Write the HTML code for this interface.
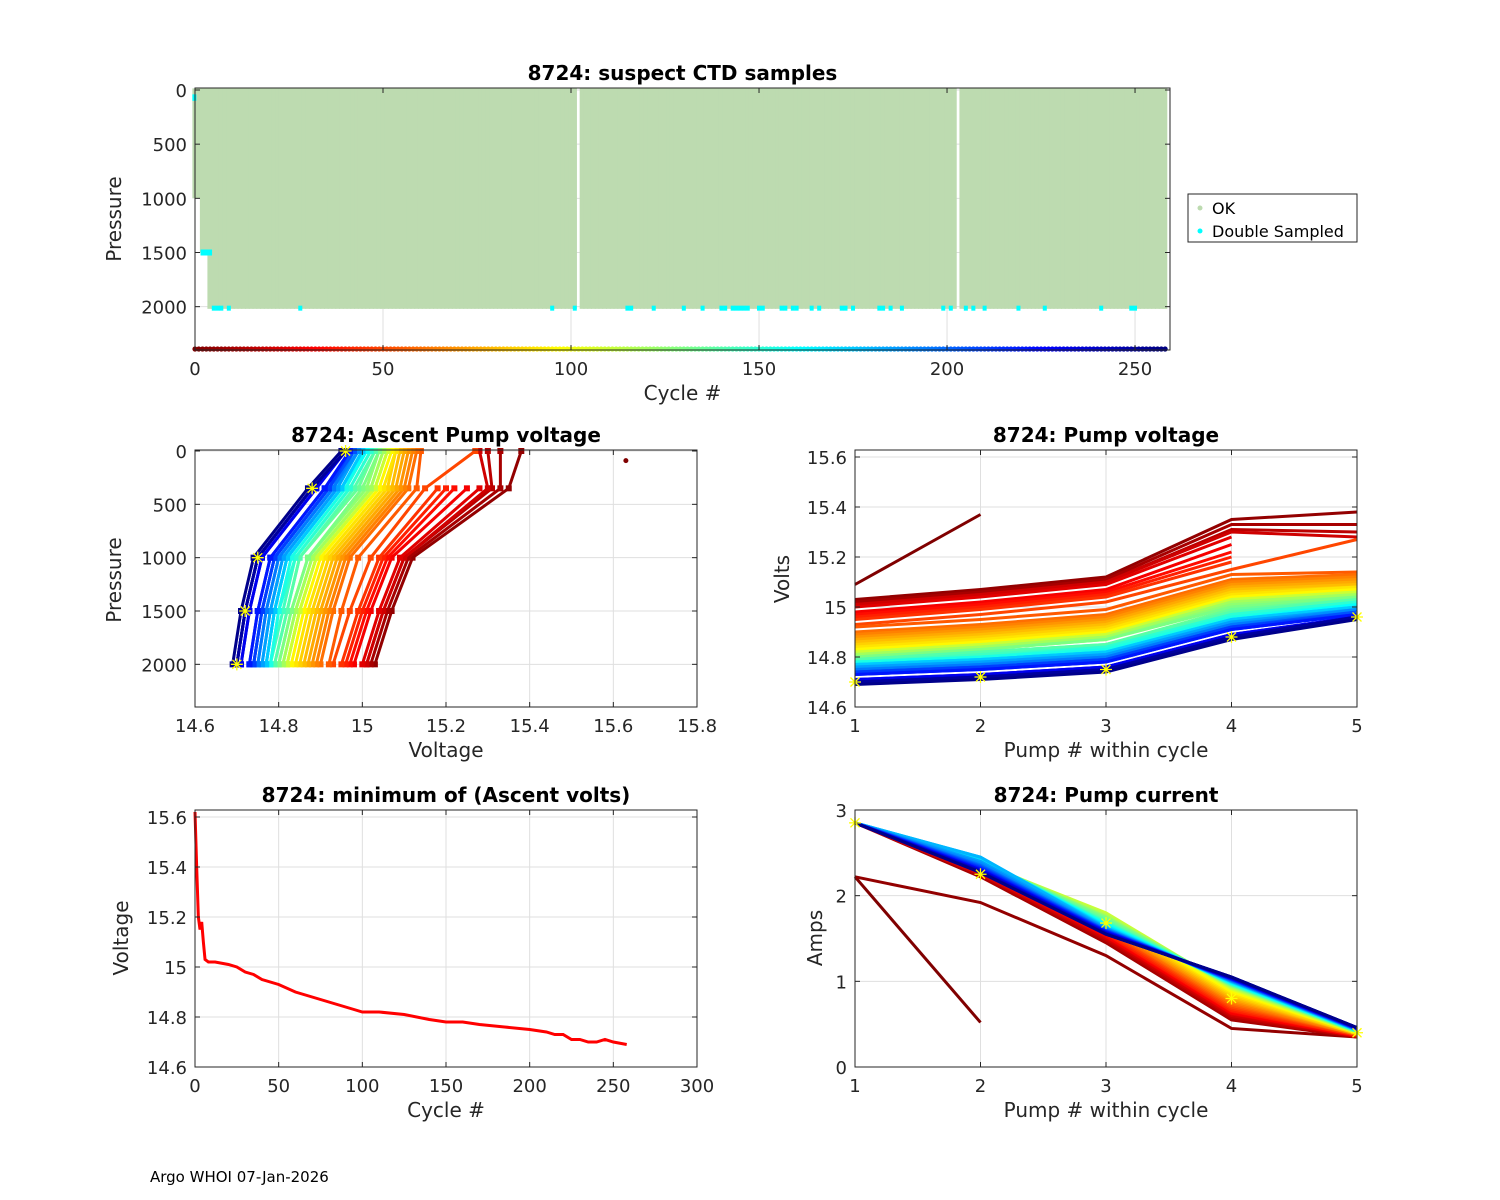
<!DOCTYPE html>
<html><head><meta charset="utf-8">
<style>
html,body{margin:0;padding:0;background:#fff;}
svg{display:block;font-family:"DejaVu Sans","Liberation Sans",sans-serif;}
</style></head>
<body>
<svg id="fig" width="1500" height="1200" viewBox="0 0 1500 1200" xmlns="http://www.w3.org/2000/svg">
<rect x="0" y="0" width="1500" height="1200" fill="#fff"/>
<text x="150" y="1182" font-size="15" fill="#000">Argo WHOI 07-Jan-2026</text>
</svg>
<script>
// ---------- data ----------
const cycles = [0,5,10,15,20,25,30,35,40,45,50,55,60,65,70,75,80,85,90,95,100,105,110,115,120,125,130,135,140,145,150,155,160,165,170,175,180,185,190,195,200,205,210,215,220,225,230,235,240,245,250,255];
const pumpPressures = [2000,1500,1000,350,0];
const volt1 = [15.09,15.03,15.02,15.01,15.01,15.00,14.98,14.97,14.96,14.95,14.93,14.92,14.90,14.89,14.88,14.87,14.86,14.85,14.84,14.83,14.82,14.82,14.82,14.81,14.81,14.80,14.80,14.79,14.79,14.78,14.78,14.78,14.77,14.77,14.77,14.77,14.76,14.76,14.75,14.75,14.74,14.74,14.74,14.73,14.73,14.71,14.71,14.70,14.70,14.70,14.70,14.69];
const volt2 = [15.37,15.07,15.06,15.05,15.05,15.04,15.02,15.01,15.00,14.99,14.97,14.95,14.93,14.92,14.91,14.90,14.89,14.88,14.87,14.86,14.85,14.85,14.85,14.84,14.84,14.83,14.83,14.82,14.82,14.81,14.80,14.80,14.79,14.79,14.79,14.79,14.78,14.78,14.77,14.77,14.76,14.76,14.76,14.75,14.75,14.73,14.73,14.72,14.72,14.72,14.72,14.71];
const volt3 = [null,15.12,15.11,15.10,15.10,15.09,15.07,15.06,15.05,15.04,15.02,14.99,14.97,14.96,14.95,14.94,14.93,14.92,14.91,14.90,14.89,14.89,14.89,14.88,14.88,14.87,14.87,14.85,14.85,14.84,14.84,14.83,14.82,14.82,14.82,14.82,14.81,14.81,14.80,14.80,14.79,14.79,14.79,14.78,14.78,14.76,14.76,14.75,14.75,14.75,14.75,14.74];
const volt4 = [null,15.35,15.33,15.31,15.30,15.28,15.25,15.22,15.20,15.18,15.15,15.13,15.11,15.10,15.09,15.08,15.07,15.06,15.05,15.04,15.03,15.03,15.03,15.02,15.02,15.01,15.00,14.99,14.98,14.97,14.97,14.96,14.95,14.95,14.95,14.95,14.94,14.94,14.93,14.93,14.92,14.92,14.92,14.91,14.91,14.89,14.89,14.88,14.88,14.88,14.88,14.87];
const volt5 = [null,15.38,15.33,15.30,15.28,null,null,null,null,null,15.27,15.14,15.13,15.12,15.11,15.10,15.09,15.08,15.08,15.07,15.06,15.06,15.06,15.05,15.05,15.04,15.04,15.03,15.03,15.02,15.02,15.01,15.01,15.00,15.00,15.00,14.99,14.99,14.99,14.98,14.98,14.98,14.97,14.97,14.97,14.96,14.96,14.96,14.96,14.96,14.96,14.95];
const amp1 = [2.22,2.22,2.85,2.85,2.85,2.85,2.85,2.85,2.85,2.85,2.85,2.85,2.85,2.85,2.85,2.85,2.85,2.85,2.85,2.85,2.85,2.85,2.85,2.85,2.85,2.85,2.85,2.85,2.85,2.85,2.85,2.85,2.85,2.85,2.85,2.85,2.85,2.85,2.85,2.85,2.85,2.85,2.85,2.85,2.85,2.85,2.85,2.85,2.85,2.85,2.85,2.85];
const amp2 = [0.52,1.92,2.22,2.24,2.25,2.26,2.27,2.28,2.29,2.30,2.30,2.31,2.32,2.33,2.33,2.34,2.35,2.35,2.36,2.37,2.37,2.38,2.38,2.39,2.39,2.40,2.40,2.41,2.41,2.42,2.42,2.43,2.43,2.44,2.44,2.45,2.45,2.40,2.38,2.36,2.35,2.34,2.33,2.32,2.31,2.30,2.30,2.29,2.28,2.28,2.27,2.27];
const amp3 = [null,1.30,1.45,1.48,1.50,1.52,1.53,1.55,1.56,1.58,1.60,1.62,1.63,1.65,1.66,1.68,1.70,1.72,1.74,1.75,1.76,1.78,1.80,1.78,1.76,1.75,1.74,1.72,1.70,1.69,1.68,1.67,1.66,1.65,1.64,1.63,1.62,1.62,1.61,1.60,1.60,1.59,1.59,1.58,1.58,1.57,1.57,1.56,1.56,1.55,1.55,1.55];
const amp4 = [null,0.45,0.55,0.58,0.60,0.62,0.63,0.65,0.66,0.68,0.70,0.72,0.74,0.76,0.78,0.80,0.82,0.84,0.86,0.88,0.90,0.91,0.92,0.93,0.94,0.95,0.95,0.96,0.96,0.97,0.97,0.98,0.98,0.99,0.99,1.00,1.00,1.00,1.01,1.01,1.02,1.02,1.02,1.03,1.03,1.03,1.04,1.04,1.04,1.05,1.05,1.05];
const amp5 = [null,0.35,0.35,0.35,0.36,0.36,0.36,0.37,0.37,0.37,0.38,0.38,0.38,0.38,0.39,0.39,0.39,0.39,0.40,0.40,0.40,0.40,0.40,0.41,0.41,0.41,0.41,0.42,0.42,0.42,0.42,0.42,0.43,0.43,0.43,0.43,0.43,0.44,0.44,0.44,0.44,0.44,0.45,0.45,0.45,0.45,0.45,0.46,0.46,0.46,0.46,0.46];
const medianVolts = [14.70,14.72,14.75,14.88,14.96];
const medianAmps = [2.85,2.25,1.68,0.80,0.40];
const minCycles = [0,1,2,3,4,5,6,8,12,20,25,30,35,40,50,60,70,75,85,95,100,105,110,125,140,150,160,170,185,200,210,215,220,225,230,235,240,245,250,258];
const minVolts = [15.62,15.40,15.20,15.15,15.18,15.10,15.03,15.02,15.02,15.01,15.00,14.98,14.97,14.95,14.93,14.90,14.88,14.87,14.85,14.83,14.82,14.82,14.82,14.81,14.79,14.78,14.78,14.77,14.76,14.75,14.74,14.73,14.73,14.71,14.71,14.70,14.70,14.71,14.70,14.69];
const lastCycle = 258;
const fullDepth = 2020;
const earlyCycles = [0,1,2,3];
const earlyDepth = [1000,1000,1500,1500];
const gapCycles = [102,203];
const doubleCycles = [5,6,7,9,28,95,101,115,116,122,130,135,140,141,143,144,145,146,147,150,151,156,157,159,160,164,166,172,173,175,182,183,185,188,199,201,205,207,210,219,226,241,249,250];
const doubleAt1500 = [2,3,4];
const topXTicks = [0,50,100,150,200,250];
const topYTicks = [0,500,1000,1500,2000];
const mlXTicks = [14.6,14.8,15,15.2,15.4,15.6,15.8];
const mlYTicks = [0,500,1000,1500,2000];
const pumpTicks = [1,2,3,4,5];
const voltTicks = [14.6,14.8,15,15.2,15.4,15.6];
const ampTicks = [0,1,2,3];
const cycTicks = [0,50,100,150,200,250,300];

// ---------- helpers ----------
const NS = "http://www.w3.org/2000/svg";
const svg = document.getElementById('fig');
function mk(tag, attrs, parent){
  const e = document.createElementNS(NS, tag);
  for (const k in attrs) e.setAttribute(k, attrs[k]);
  (parent||svg).appendChild(e);
  return e;
}
function jet(t){
  t = Math.max(0, Math.min(1, t));
  function f(x){ return Math.max(0, Math.min(1, x)); }
  const r = f(1.5 - Math.abs(4*t - 3));
  const g = f(1.5 - Math.abs(4*t - 2));
  const b = f(1.5 - Math.abs(4*t - 1));
  return `rgb(${Math.round(r*255)},${Math.round(g*255)},${Math.round(b*255)})`;
}
function cycColor(c){ return jet(1 - c/lastCycle); }
function lin(d0,d1,p0,p1){ return v => p0 + (v-d0)/(d1-d0)*(p1-p0); }
function fmt(v){ return String(Math.round(v*100)/100); }

function axesFrame(name, x0,y0,x1,y1, xs, ys, xt, yt, title, xlabel){
  const g = mk('g', {});
  
  
  xt.forEach(v => { const x = xs(v); if (x> x0+0.5 && x < x1-0.5) { const l = mk('line',{x1:x,y1:y0,x2:x,y2:y1,stroke:'#dfdfdf','stroke-width':1},g);   }});
  yt.forEach(v => { const y = ys(v); if (y> y0+0.5 && y < y1-0.5) { const l = mk('line',{x1:x0,y1:y,x2:x1,y2:y,stroke:'#dfdfdf','stroke-width':1},g);   }});
  const plot = mk('g', {}, g);
  
  
  const frame = mk('g', {}, g);
  mk('rect',{x:x0,y:y0,width:x1-x0,height:y1-y0,fill:'none',stroke:'#262626','stroke-width':1},frame);
  xt.forEach(v => {
    const x = xs(v);
    mk('line',{x1:x,y1:y1,x2:x,y2:y1-5,stroke:'#262626'},frame);
    mk('line',{x1:x,y1:y0,x2:x,y2:y0+5,stroke:'#262626'},frame);
    const t = mk('text',{x:x,y:y1+25,'font-size':18,'text-anchor':'middle',fill:'#262626'},frame);
    t.textContent = fmt(v);
    
    
  });
  yt.forEach(v => {
    const y = ys(v);
    mk('line',{x1:x0,y1:y,x2:x0+5,y2:y,stroke:'#262626'},frame);
    mk('line',{x1:x1,y1:y,x2:x1-5,y2:y,stroke:'#262626'},frame);
    const t = mk('text',{x:x0-8,y:y+7,'font-size':18,'text-anchor':'end',fill:'#262626'},frame);
    t.textContent = fmt(v);
    
    
  });
  const tt = mk('text',{x:(x0+x1)/2,y:y0-8,'font-size':20,'font-weight':'bold','text-anchor':'middle',fill:'#000'},g);
  tt.textContent = title;
  
  
  const xl = mk('text',{x:(x0+x1)/2,y:y1+50,'font-size':20,'text-anchor':'middle',fill:'#262626'},g);
  xl.textContent = xlabel;
  
  
  return {g, plot, frame};
}
function ylab(text, x, y){
  const t = mk('text',{x:x,y:y,'font-size':20,'text-anchor':'middle',fill:'#262626',transform:`rotate(-90 ${x} ${y})`});
  t.textContent = text;
  
  
}
function star(parent, x, y){
  const s = mk('path',{d:`M${x-6},${y}H${x+6}M${x},${y-6}V${y+6}M${x-4.5},${y-4.5}L${x+4.5},${y+4.5}M${x-4.5},${y+4.5}L${x+4.5},${y-4.5}`,stroke:'#ffff00','stroke-width':1.3,fill:'none'},parent);
  
  
}

// ---------- top: suspect CTD samples ----------
(function(){
  const x0=195,x1=1170,y0=88,y1=350;
  const xs = lin(0,259.3,x0,x1), ys = lin(0,2400,90,350);
  const A = axesFrame('suspect-ctd-chart',x0,y0,x1,y1,xs,ys,topXTicks,topYTicks,'8724: suspect CTD samples','Cycle #');
  const p = A.plot;
  svg.insertBefore(A.g, svg.lastChild);
  for (let c=0;c<=lastCycle;c++){
    if (gapCycles.includes(c)) continue;
    const ei = earlyCycles.indexOf(c);
    const depth = ei>=0 ? earlyDepth[ei] : fullDepth;
    const xa = xs(c-0.7), xb = xs(c+0.5);
    const r = mk('rect',{x:xa,y:ys(-15),width:xb-xa+0.3,height:ys(depth)-ys(-15),fill:'#bddbb0'},p);
    
    
  }
  const d0 = mk('rect',{x:xs(-0.7),y:ys(40),width:4,height:ys(100)-ys(40),fill:'#00ffff'},p);
  
  
  doubleAt1500.forEach(c=>{
    const e = mk('rect',{x:xs(c)-2,y:ys(1500)-3,width:4,height:6,fill:'#00ffff'},p);
    
    
  });
  doubleCycles.forEach(c=>{
    const e = mk('rect',{x:xs(c)-2,y:ys(2000)-1,width:4,height:5,fill:'#00ffff'},p);
    
    
  });
  for (let c=0;c<=lastCycle;c++){
    const e = mk('circle',{cx:xs(c),cy:ys(2400)-1,r:2.6,fill:cycColor(c)},p);
    
    
  }
  ylab('Pressure',121,219);
  const lg = mk('g',{});
  
  
  mk('rect',{x:1188,y:194,width:169,height:48,fill:'#fff',stroke:'#262626'},lg);
  mk('circle',{cx:1200,cy:208,r:2.5,fill:'#bddbb0'},lg);
  const t1 = mk('text',{x:1212,y:214,'font-size':16,fill:'#000'},lg); t1.textContent='OK';
   
  mk('circle',{cx:1200,cy:231,r:2.5,fill:'#00ffff'},lg);
  const t2 = mk('text',{x:1212,y:237,'font-size':16,fill:'#000'},lg); t2.textContent='Double Sampled';
   
})();

const volts = [volt1,volt2,volt3,volt4,volt5];
const amps = [amp1,amp2,amp3,amp4,amp5];

// ---------- mid-left: ascent pump voltage ----------
(function(){
  const x0=195,x1=697,y0=450,y1=707;
  const xs = lin(14.6,15.8,x0,x1), ys = lin(0,2400,451,707);
  const A = axesFrame('ascent-pump-voltage-chart',x0,y0,x1,y1,xs,ys,mlXTicks,mlYTicks,'8724: Ascent Pump voltage','Voltage');
  svg.insertBefore(A.g, svg.lastChild);
  const p = A.plot;
  cycles.forEach((c,i)=>{
    if (volt3[i]===null) return;
    const pts = [];
    pumpPressures.forEach((pr,k)=>{ const v = volts[k][i]; if (v!==null) pts.push([xs(v),ys(pr)]); });
    const col = cycColor(c);
    const pl = mk('polyline',{points:pts.map(q=>q.join(',')).join(' '),fill:'none',stroke:col,'stroke-width':3},p);
    
    
    pts.forEach(q=>{
      const d = mk('rect',{x:q[0]-3,y:q[1]-3,width:6,height:6,fill:col},p);
      
      
    });
  });
  const od = mk('circle',{cx:xs(15.63),cy:ys(90),r:2.5,fill:'#800000'},p);
  
  
  pumpPressures.forEach((pr,k)=>star(p, xs(medianVolts[k]), ys(pr)));
  ylab('Pressure',121,580);
})();

// ---------- mid-right: pump voltage ----------
(function(){
  const x0=855,x1=1357,y0=450,y1=707;
  const xs = lin(1,5,x0,x1), ys = lin(14.6,15.6,707,457);
  const A = axesFrame('pump-voltage-chart',x0,y0,x1,y1,xs,ys,pumpTicks,voltTicks,'8724: Pump voltage','Pump # within cycle');
  svg.insertBefore(A.g, svg.lastChild);
  const p = A.plot;
  cycles.forEach((c,i)=>{
    const pts = [];
    pumpTicks.forEach((pn,k)=>{ const v = volts[k][i]; if (v!==null) pts.push([xs(pn),ys(v)]); });
    const pl = mk('polyline',{points:pts.map(q=>q.join(',')).join(' '),fill:'none',stroke:cycColor(c),'stroke-width':3},p);
    
    
  });
  pumpTicks.forEach((pn,k)=>star(p, xs(pn), ys(medianVolts[k])));
  ylab('Volts',789,579);
})();

// ---------- bottom-left: minimum ascent volts ----------
(function(){
  const x0=195,x1=697,y0=810,y1=1067;
  const xs = lin(0,300,x0,x1), ys = lin(14.6,15.6,1067,817);
  const A = axesFrame('minimum-ascent-volts-chart',x0,y0,x1,y1,xs,ys,cycTicks,voltTicks,'8724: minimum of (Ascent volts)','Cycle #');
  svg.insertBefore(A.g, svg.lastChild);
  const pts = minCycles.map((c,i)=>[xs(c),ys(minVolts[i])]);
  const pl = mk('polyline',{points:pts.map(q=>q.join(',')).join(' '),fill:'none',stroke:'#ff0000','stroke-width':3},A.plot);
  
  
  ylab('Voltage',128,938);
})();

// ---------- bottom-right: pump current ----------
(function(){
  const x0=855,x1=1357,y0=810,y1=1067;
  const xs = lin(1,5,x0,x1), ys = lin(0,3,1067,810);
  const A = axesFrame('pump-current-chart',x0,y0,x1,y1,xs,ys,pumpTicks,ampTicks,'8724: Pump current','Pump # within cycle');
  svg.insertBefore(A.g, svg.lastChild);
  const p = A.plot;
  cycles.forEach((c,i)=>{
    const pts = [];
    pumpTicks.forEach((pn,k)=>{ const v = amps[k][i]; if (v!==null) pts.push([xs(pn),ys(v)]); });
    const pl = mk('polyline',{points:pts.map(q=>q.join(',')).join(' '),fill:'none',stroke:cycColor(c),'stroke-width':3},p);
    
    
  });
  pumpTicks.forEach((pn,k)=>star(p, xs(pn), ys(medianAmps[k])));
  ylab('Amps',822,938);
})();
</script>
</body></html>
